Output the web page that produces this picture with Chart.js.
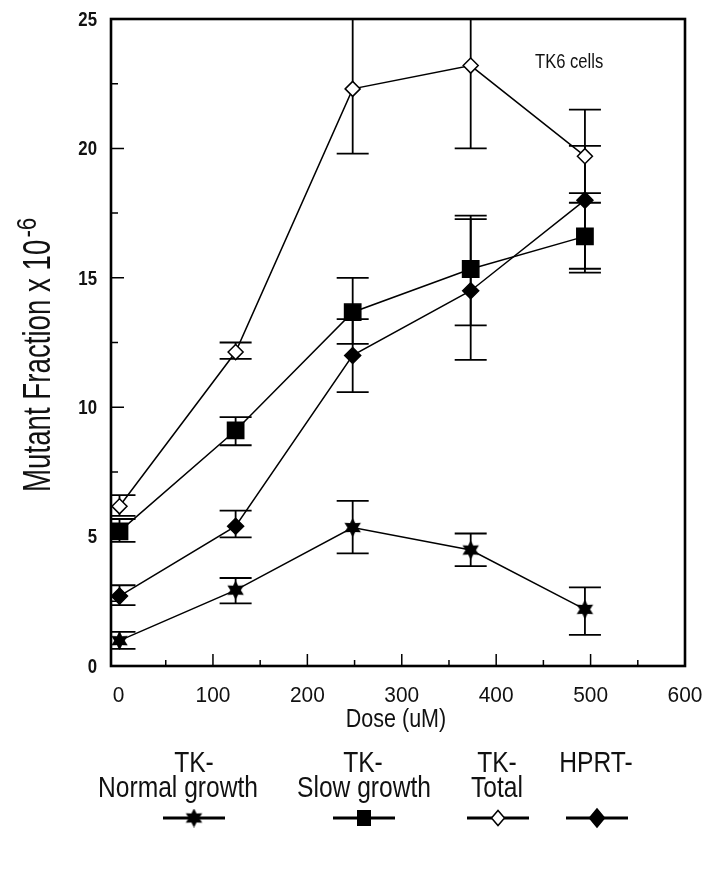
<!DOCTYPE html>
<html>
<head>
<meta charset="utf-8">
<script src="https://cdn.jsdelivr.net/npm/chart.js@4.4.1/dist/chart.umd.min.js"></script>
<style>
  html, body { margin: 0; padding: 0; background: #fff; }
  #wrap { position: relative; width: 716px; height: 879px; }
</style>
</head>
<body>
<div id="wrap"><canvas id="chart" width="716" height="879"></canvas></div>
<script>
// dose in uM, as plotted in the figure
const doses = [1, 124, 248, 373, 494];

// mutant fraction x 10^-6, with error bar ends
const normalGrowth = [0.98, 2.93, 5.35, 4.48, 2.19];
const normalLow = [0.66, 2.42, 4.35, 3.86, 1.2];
const normalHigh = [1.32, 3.4, 6.38, 5.12, 3.04];

const slowGrowth = [5.2, 9.1, 13.67, 15.34, 16.6];
const slowLow = [4.8, 8.53, 12.45, 13.16, 15.35];
const slowHigh = [5.68, 9.62, 15.0, 17.4, 18.27];

const tkTotal = [6.17, 12.13, 22.3, 23.2, 19.7];
const totalLow = [5.8, 11.87, 19.8, 20.0, 17.9];
const totalHigh = [6.6, 12.5, 25, 26.4, 21.5];

const hprt = [2.7, 5.4, 12.0, 14.5, 18.0];
const hprtLow = [2.35, 4.97, 10.58, 11.83, 15.2];
const hprtHigh = [3.12, 6.0, 13.4, 17.27, 20.1];

const yTicks = [0, 5, 10, 15, 20, 25];
const xTicks = [0, 100, 200, 300, 400, 500, 600];

// no condensed face is installed, so text is squeezed horizontally
const FONT = "'Liberation Sans', Arial, sans-serif";

function drawText(ctx, str, x, y, size, opts) {
  const { align = 'left', sx = 0.82, weight = 'normal', baseline = 'alphabetic' } = opts || {};
  ctx.save();
  ctx.font = weight + ' ' + size + 'px ' + FONT;
  ctx.textBaseline = baseline;
  ctx.textAlign = 'left';
  const w = ctx.measureText(str).width * sx;
  let left = x;
  if (align === 'center') left = x - w / 2;
  else if (align === 'right') left = x - w;
  ctx.translate(left, y);
  ctx.scale(sx, 1);
  ctx.fillText(str, 0, 0);
  ctx.restore();
  return w;
}

function makeStar(size) {
  const c = document.createElement('canvas');
  c.width = size; c.height = size;
  const g = c.getContext('2d');
  const r = size / 2;
  g.fillStyle = '#000';
  g.beginPath();
  for (let k = 0; k < 12; k++) {
    const a = -Math.PI / 2 + k * Math.PI / 6;
    const rr = k % 2 === 0 ? r : r * 0.55;
    g.lineTo(r + rr * Math.cos(a), r + rr * Math.sin(a));
  }
  g.closePath();
  g.fill();
  return c;
}
const starImg = makeStar(19);

function pts(vals) {
  return doses.map((d, i) => ({ x: d, y: vals[i] }));
}

const series = [
  { label: 'TK- Normal growth', vals: normalGrowth, low: normalLow, high: normalHigh,
    pointStyle: starImg, radius: 9, bg: '#000' },
  { label: 'TK- Slow growth', vals: slowGrowth, low: slowLow, high: slowHigh,
    pointStyle: 'rect', radius: 11.5, bg: '#000' },
  { label: 'TK- Total', vals: tkTotal, low: totalLow, high: totalHigh,
    pointStyle: 'rectRot', radius: 7.5, bg: '#fff' },
  { label: 'HPRT-', vals: hprt, low: hprtLow, high: hprtHigh,
    pointStyle: 'rectRot', radius: 8, bg: '#000' }
];

const framePlugin = {
  id: 'frame',
  beforeDatasetsDraw(chart) {
    const { ctx, chartArea: a, scales: { x, y } } = chart;
    // error bars, under the markers
    ctx.save();
    ctx.beginPath();
    ctx.rect(a.left, a.top - 1, a.right - a.left, a.bottom - a.top + 2);
    ctx.clip();
    ctx.strokeStyle = '#000';
    ctx.lineWidth = 1.8;
    series.forEach((s) => {
      doses.forEach((d, i) => {
        const px = x.getPixelForValue(d);
        const lo = y.getPixelForValue(s.low[i]);
        const hi = y.getPixelForValue(s.high[i]);
        ctx.beginPath();
        ctx.moveTo(px, lo); ctx.lineTo(px, hi);
        ctx.moveTo(px - 16, lo); ctx.lineTo(px + 16, lo);
        ctx.moveTo(px - 16, hi); ctx.lineTo(px + 16, hi);
        ctx.stroke();
      });
    });
    ctx.restore();
  },
  afterDraw(chart) {
    const { ctx, chartArea: a, scales: { x, y } } = chart;
    ctx.save();
    ctx.strokeStyle = '#000';
    // box
    ctx.lineWidth = 2.6;
    ctx.strokeRect(a.left, a.top, a.right - a.left, a.bottom - a.top);
    // inward ticks
    ctx.lineWidth = 1.5;
    ctx.beginPath();
    for (let v = 2.5; v < 25; v += 2.5) {
      const py = y.getPixelForValue(v);
      const len = v % 5 === 0 ? 13 : 7;
      ctx.moveTo(a.left, py); ctx.lineTo(a.left + len, py);
    }
    for (let v = 50; v < 600; v += 50) {
      const px = x.getPixelForValue(v);
      const len = v % 100 === 0 ? 12 : 6;
      ctx.moveTo(px, a.bottom); ctx.lineTo(px, a.bottom - len);
    }
    ctx.stroke();

    ctx.fillStyle = '#111';
    // tick labels
    yTicks.forEach((v) => {
      drawText(ctx, String(v), a.left - 14, y.getPixelForValue(v) + 1, 21,
        { align: 'right', sx: 0.8, weight: 'bold', baseline: 'middle' });
    });
    xTicks.forEach((v) => {
      drawText(ctx, String(v), x.getPixelForValue(v), a.bottom + 36, 22,
        { align: 'center', sx: 0.95 });
    });
    drawText(ctx, 'Dose (uM)', 396, 727, 25, { align: 'center', sx: 0.86 });

    // y title with superscript
    ctx.save();
    ctx.translate(50, 492);
    ctx.rotate(-Math.PI / 2);
    const w = drawText(ctx, 'Mutant Fraction x 10', 0, 0, 39, { sx: 0.71 });
    drawText(ctx, '-6', w + 2, -14, 28, { sx: 0.8 });
    ctx.restore();

    // annotation
    drawText(ctx, 'TK6 cells', 535, 68, 21, { sx: 0.79 });

    // legend
    const legend = [
      { l1: ['TK-', 194], l2: ['Normal growth', 178], cx: 194, mark: 'star' },
      { l1: ['TK-', 363], l2: ['Slow growth', 364], cx: 364, mark: 'square' },
      { l1: ['TK-', 497], l2: ['Total', 497], cx: 498, mark: 'open' },
      { l1: ['HPRT-', 596], l2: null, cx: 597, mark: 'diamond' }
    ];
    legend.forEach((it) => {
      ctx.fillStyle = '#111';
      drawText(ctx, it.l1[0], it.l1[1], 772, 30, { align: 'center', sx: 0.82 });
      if (it.l2) drawText(ctx, it.l2[0], it.l2[1], 797, 30, { align: 'center', sx: 0.82 });
      const ly = 818;
      ctx.lineWidth = 3;
      ctx.beginPath();
      ctx.moveTo(it.cx - 31, ly); ctx.lineTo(it.cx + 31, ly);
      ctx.stroke();
      ctx.lineWidth = 1.5;
      if (it.mark === 'star') {
        ctx.drawImage(starImg, it.cx - 9.5, ly - 9.5);
      } else if (it.mark === 'square') {
        ctx.fillStyle = '#000';
        ctx.fillRect(it.cx - 7, ly - 8, 14, 16);
      } else {
        ctx.beginPath();
        const hw = it.mark === 'open' ? 6.5 : 7.5;
        const hh = it.mark === 'open' ? 7.5 : 9;
        ctx.moveTo(it.cx - hw, ly); ctx.lineTo(it.cx, ly - hh);
        ctx.lineTo(it.cx + hw, ly); ctx.lineTo(it.cx, ly + hh);
        ctx.closePath();
        ctx.fillStyle = it.mark === 'open' ? '#fff' : '#000';
        ctx.fill();
        ctx.stroke();
      }
    });
    ctx.restore();
  }
};

new Chart(document.getElementById('chart').getContext('2d'), {
  type: 'line',
  data: {
    datasets: series.map((s) => ({
      label: s.label,
      data: pts(s.vals),
      borderColor: '#000',
      borderWidth: 1.5,
      backgroundColor: s.bg,
      pointStyle: s.pointStyle,
      pointRadius: s.radius,
      pointBackgroundColor: s.bg,
      pointBorderColor: '#000',
      pointBorderWidth: 1.5,
      tension: 0,
      fill: false
    }))
  },
  options: {
    responsive: false,
    animation: false,
    devicePixelRatio: 1,
    layout: { padding: { top: 19, right: 31, left: 0, bottom: 0 } },
    plugins: {
      legend: { display: false },
      tooltip: { enabled: false }
    },
    scales: {
      x: {
        type: 'linear',
        min: -8,
        max: 600,
        afterFit: (s) => { s.height = 213; },
        grid: { display: false, drawTicks: false },
        border: { display: false },
        ticks: { display: false }
      },
      y: {
        min: 0,
        max: 25,
        afterFit: (s) => { s.width = 111; },
        grid: { display: false, drawTicks: false },
        border: { display: false },
        ticks: { display: false }
      }
    }
  },
  plugins: [framePlugin]
});
</script>
</body>
</html>
